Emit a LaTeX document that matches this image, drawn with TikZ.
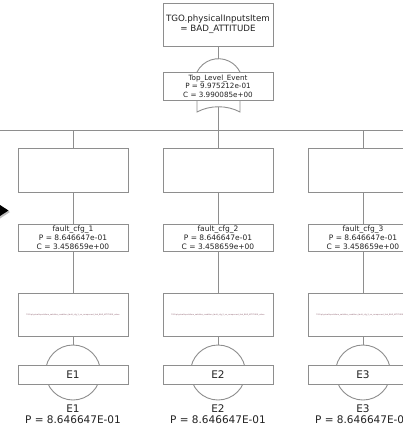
\documentclass[tikz,border=0pt]{standalone}
\usepackage{fontspec}
\setmainfont{DejaVu Sans}
\definecolor{linegray}{HTML}{8E8E8E}
\definecolor{textgray}{HTML}{222222}
\definecolor{tinyred}{HTML}{8A5A6A}
\begin{document}
\begin{tikzpicture}[x=1pt,y=-1pt,
  conn/.style={draw=linegray, line width=0.9pt},
  box/.style={draw=linegray, line width=0.9pt, fill=white, minimum width=110pt,
    inner sep=0pt, align=center, text=textgray},
  topbox/.style={box, minimum height=43pt, font=\fontsize{8.7}{10}\selectfont},
  gatebox/.style={box, minimum height=28pt, font=\fontsize{7.2}{8.6}\selectfont},
  blankbox/.style={box, minimum height=44pt},
  faultbox/.style={box, minimum height=27pt, font=\fontsize{7.5}{9}\selectfont},
  condbox/.style={box, minimum height=43pt, font=\fontsize{1.9}{2.2}\selectfont},
  evbox/.style={box, minimum height=19pt, font=\fontsize{10.5}{12}\selectfont},
  evcircle/.style={circle, draw=linegray, line width=0.9pt, fill=white, minimum size=55pt, inner sep=0pt},
  evlabel/.style={align=center, text=textgray, inner sep=0pt, font=\fontsize{10.5}{11}\selectfont}]
\useasboundingbox (0,0) rectangle (403,426);
\clip (0,0) rectangle (403,426);

% top condition
\node[topbox] (top) at (218,24.5) {TGO.physicalInputsItem\\= BAD\_ATTITUDE};

% OR gate of the top level event
\coordinate (gatetop) at (218,59);
\coordinate (gatebot) at (218,106.8);
\draw[conn, fill=white] (197,72) arc[start angle=-153.5, end angle=-26.5, radius=24]
  -- (240,112) .. controls (227,105) and (210,105) .. (197,112) -- cycle;
\draw[conn] (top.south) -- (gatetop);
\node[gatebox] (tle) at (218,86) {Top\_Level\_Event\\P = 9.975212e-01\\C = 3.990085e+00};

% horizontal bus
\coordinate (busL) at (0,130);
\coordinate (busR) at (403,130);
\draw[conn] (busL) -- (busR);
\coordinate (bus2top) at (218,130);
\draw[conn] (gatebot) -- (bus2top);

% left arrow tip
\fill[black!25] (0,205.5) -- (10,212) -- (0,218.5) -- cycle;
\fill[black] (0,205) -- (8.5,210.5) -- (0,216) -- cycle;

% three branches
\foreach \i/\x in {1/73,2/218,3/363}{
  \coordinate (bus\i) at (\x,130);
  \node[blankbox] (blank\i) at (\x,170) {};
  \node[faultbox] (fault\i) at (\x,237.5) {fault\_cfg\_\i\\P = 8.646647e-01\\C = 3.458659e+00};
  \node[condbox, text=tinyred] (cond\i) at (\x,314.5)
    {TGO.physicalInputsItem\_satisfies\_condition\_fault\_cfg\_\i\_on\_component\_link\_BAD\_ATTITUDE\_value};
  \node[evcircle] (circ\i) at (\x,372.5) {};
  \node[evbox] (ev\i) at (\x,374.5) {E\i};
  \node[evlabel] (lab\i) at (\x,414.5) {E\i\\P = 8.646647E-01};
  \draw[conn] (bus\i) -- (blank\i.north);
  \draw[conn] (blank\i.south) -- (fault\i.north);
  \draw[conn] (fault\i.south) -- (cond\i.north);
  \draw[conn] (cond\i.south) -- (circ\i.north);
}
\end{tikzpicture}
\end{document}
